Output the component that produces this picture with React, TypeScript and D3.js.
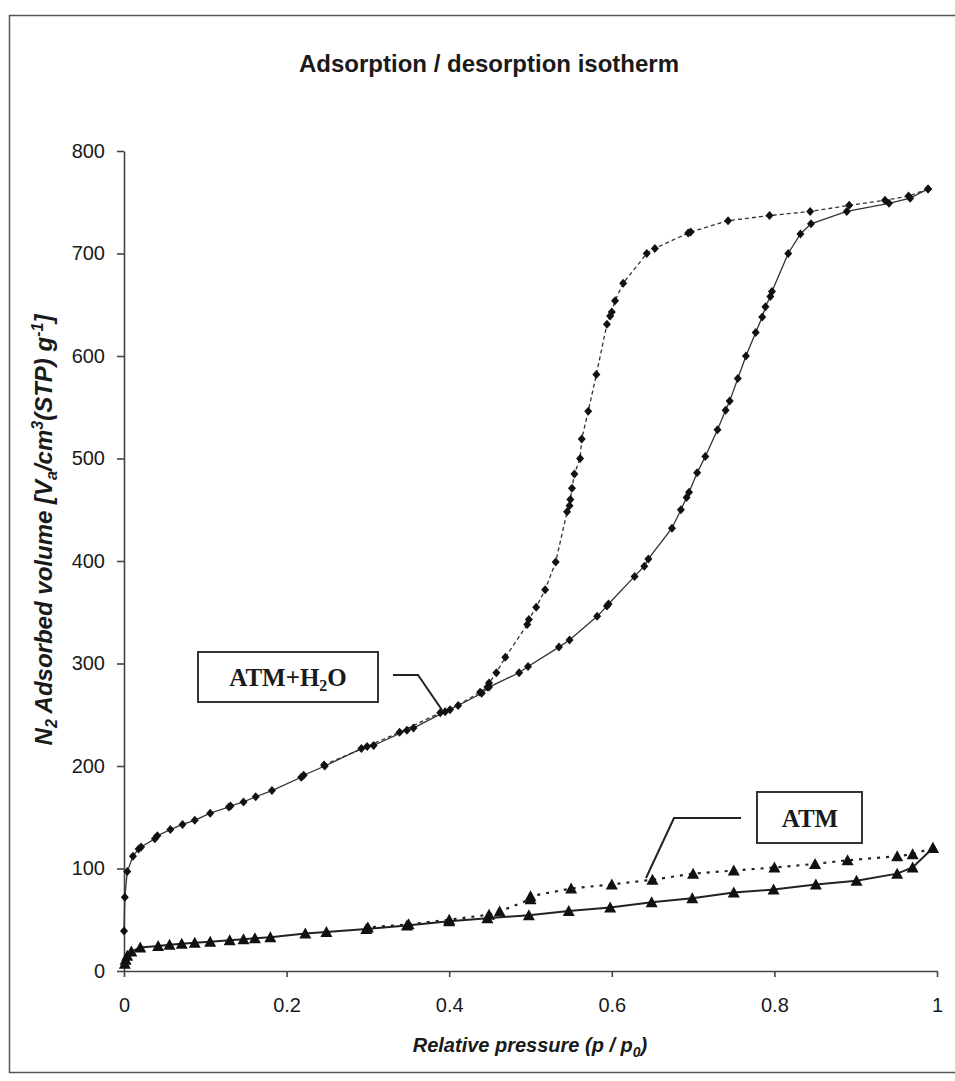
import { useEffect, useRef } from "react";
import * as d3 from "d3";

const WIDTH = 955;
const HEIGHT = 1081;

// ATM+H2O, adsorption branch (solid line)
const h2oAdsP = [
  0.0, 0.001, 0.004, 0.011, 0.018, 0.021, 0.038, 0.041, 0.057, 0.072, 0.087,
  0.106, 0.129, 0.131, 0.147, 0.162, 0.182, 0.218, 0.221, 0.247, 0.292, 0.307,
  0.348, 0.356, 0.395, 0.411, 0.44, 0.449, 0.486, 0.497, 0.535, 0.548, 0.582,
  0.594, 0.596, 0.628, 0.64, 0.645, 0.674, 0.685, 0.692, 0.695, 0.705, 0.715,
  0.73, 0.74, 0.745, 0.755, 0.765, 0.777, 0.785, 0.789, 0.795, 0.797, 0.817,
  0.832, 0.845, 0.889, 0.941, 0.967, 0.989,
];
const h2oAdsV = [
  39, 72, 97, 112, 119, 121, 129, 132, 138, 143, 147, 154, 160, 161, 165, 170,
  176, 189, 191, 200, 217, 220, 235, 237, 253, 259, 271, 277, 291, 297, 316,
  323, 346, 356, 358, 385, 395, 402, 432, 450, 462, 467, 486, 502, 528, 547,
  556, 578, 600, 623, 638, 648, 658, 663, 700, 719, 729, 741, 749, 754, 763,
];

// ATM+H2O, desorption branch (dashed line)
const h2oDesP = [
  0.989, 0.965, 0.936, 0.892, 0.844, 0.794, 0.743, 0.697, 0.694, 0.653, 0.643,
  0.614, 0.604, 0.6, 0.598, 0.594, 0.581, 0.571, 0.563, 0.561, 0.554, 0.551,
  0.549, 0.548, 0.545, 0.531, 0.518, 0.507, 0.498, 0.496, 0.469, 0.458, 0.449,
  0.447, 0.438, 0.401, 0.389, 0.339, 0.299, 0.246,
];
const h2oDesV = [
  763, 756, 752, 747, 741, 737, 732, 721, 720, 705, 700, 671, 654, 643, 639,
  631, 582, 546, 519, 500, 485, 471, 460, 454, 448, 399, 372, 355, 343, 338,
  306, 291, 281, 277, 272, 255, 252, 233, 219, 201,
];

// ATM, adsorption branch (solid line)
const atmAdsP = [
  0.001, 0.002, 0.004, 0.009, 0.02, 0.042, 0.056, 0.071, 0.087, 0.106, 0.13,
  0.147, 0.161, 0.18, 0.223, 0.249, 0.298, 0.348, 0.4, 0.447, 0.498, 0.547,
  0.598, 0.649, 0.699, 0.75, 0.799, 0.851, 0.901, 0.951, 0.97, 0.995,
];
const atmAdsV = [
  7, 11, 15, 19, 23, 24.5, 25.5, 26.5, 27.5, 28.5, 30, 31, 32, 33, 36.5, 38,
  41, 44.5, 48.5, 51.5, 54.5, 58.5, 62, 67, 71, 76.5, 79.5, 84.5, 88, 95, 101,
  120,
];

// ATM, desorption branch (dotted line)
const atmDesP = [
  0.995, 0.97, 0.951, 0.89, 0.85, 0.8, 0.75, 0.7, 0.65, 0.6, 0.55, 0.5, 0.5,
  0.462, 0.449, 0.4, 0.35, 0.3,
];
const atmDesV = [
  120, 114, 112, 108, 104.5, 101, 98, 95, 89, 84.5, 80.5, 73, 70, 58, 55, 50,
  45.5, 42.5,
];

const yTicks = [0, 100, 200, 300, 400, 500, 600, 700, 800];
const xTicks = [0, 0.2, 0.4, 0.6, 0.8, 1];

const SANS = "'Liberation Sans', Arial, sans-serif";
const SERIF = "'Liberation Serif', 'Times New Roman', serif";

const App = () => {
  const svgRef = useRef<SVGSVGElement>(null);

  useEffect(() => {
    if (!svgRef.current) return;
    const svg = d3.select(svgRef.current);
    svg.selectAll("*").remove();

    const x = d3.scaleLinear().domain([0, 1]).range([124, 937]);
    const y = d3.scaleLinear().domain([0, 800]).range([971, 151]);

    // outer frame
    svg
      .append("rect")
      .attr("x", 9.5)
      .attr("y", 15.5)
      .attr("width", 960)
      .attr("height", 1057)
      .attr("fill", "#fff")
      .attr("stroke", "#555")
      .attr("stroke-width", 1.5);

    svg
      .append("text")
      .attr("x", 489)
      .attr("y", 72)
      .attr("text-anchor", "middle")
      .attr("font-family", SANS)
      .attr("font-weight", "bold")
      .attr("font-size", 24)
      .attr("fill", "#1a1a1a")
      .text("Adsorption / desorption isotherm");

    // axes
    const yAxis = svg
      .append("g")
      .attr("transform", `translate(${x(0)},0)`)
      .call(
        d3
          .axisLeft(y)
          .tickValues(yTicks)
          .tickSize(7)
          .tickSizeOuter(0)
          .tickPadding(12)
          .tickFormat((d) => String(d)),
      );
    const xAxis = svg
      .append("g")
      .attr("transform", `translate(0,${y(0)})`)
      .call(
        d3
          .axisBottom(x)
          .tickValues(xTicks)
          .tickSize(6)
          .tickSizeOuter(0)
          .tickPadding(21)
          .tickFormat((d) => String(+(+d).toFixed(1))),
      );
    [yAxis, xAxis].forEach((g) => {
      g.selectAll("path, line")
        .attr("stroke", "#444")
        .attr("stroke-width", 1.6);
      g.selectAll("text")
        .attr("font-family", SANS)
        .attr("font-size", 20)
        .attr("fill", "#1a1a1a");
    });

    // axis titles
    const xt = svg
      .append("text")
      .attr("x", 530)
      .attr("y", 1052)
      .attr("text-anchor", "middle")
      .attr("font-family", SANS)
      .attr("font-weight", "bold")
      .attr("font-style", "italic")
      .attr("font-size", 20)
      .attr("fill", "#1a1a1a");
    xt.append("tspan").text("Relative pressure (p / p");
    xt.append("tspan").attr("dy", 5).attr("font-size", 14).text("0");
    xt.append("tspan").attr("dy", -5).text(")");

    const yt = svg
      .append("text")
      .attr("transform", "translate(52,530) rotate(-90)")
      .attr("text-anchor", "middle")
      .attr("font-family", SANS)
      .attr("font-weight", "bold")
      .attr("font-style", "italic")
      .attr("font-size", 24)
      .attr("fill", "#1a1a1a");
    yt.append("tspan").text("N");
    yt.append("tspan").attr("dy", 5).attr("font-size", 16).text("2");
    yt.append("tspan").attr("dy", -5).text(" Adsorbed volume  [V");
    yt.append("tspan").attr("dy", 5).attr("font-size", 16).text("a");
    yt.append("tspan").attr("dy", -5).text("/cm");
    yt.append("tspan").attr("dy", -9).attr("font-size", 16).text("3");
    yt.append("tspan").attr("dy", 9).text("(STP) g");
    yt.append("tspan").attr("dy", -9).attr("font-size", 16).text("-1");
    yt.append("tspan").attr("dy", 9).text("]");

    const toPts = (ps: number[], vs: number[]) =>
      ps.map((p, i) => [p, vs[i]] as [number, number]);

    const line = d3
      .line<[number, number]>()
      .x((d) => x(d[0]))
      .y((d) => y(d[1]));

    const h2oAds = toPts(h2oAdsP, h2oAdsV);
    const h2oDes = toPts(h2oDesP, h2oDesV);
    const atmAds = toPts(atmAdsP, atmAdsV);
    const atmDes = toPts(atmDesP, atmDesV);

    svg
      .append("path")
      .datum(h2oAds)
      .attr("d", line)
      .attr("fill", "none")
      .attr("stroke", "#333")
      .attr("stroke-width", 1.3);
    svg
      .append("path")
      .datum(h2oDes)
      .attr("d", line)
      .attr("fill", "none")
      .attr("stroke", "#333")
      .attr("stroke-width", 1.3)
      .attr("stroke-dasharray", "4,3");
    svg
      .append("path")
      .datum(atmAds)
      .attr("d", line)
      .attr("fill", "none")
      .attr("stroke", "#222")
      .attr("stroke-width", 2);
    svg
      .append("path")
      .datum(atmDes)
      .attr("d", line)
      .attr("fill", "none")
      .attr("stroke", "#222")
      .attr("stroke-width", 2.2)
      .attr("stroke-dasharray", "3,6");

    const diamond = "M0,-4.5L4,0L0,4.5L-4,0Z";
    const triangle = "M0,-6L6,5L-6,5Z";

    svg
      .append("g")
      .selectAll("path")
      .data([...h2oAds, ...h2oDes])
      .join("path")
      .attr("d", diamond)
      .attr("transform", (d) => `translate(${x(d[0])},${y(d[1])})`)
      .attr("fill", "#111");
    svg
      .append("g")
      .selectAll("path")
      .data([...atmAds, ...atmDes])
      .join("path")
      .attr("d", triangle)
      .attr("transform", (d) => `translate(${x(d[0])},${y(d[1])})`)
      .attr("fill", "#111");

    // callout labels
    const callout = (
      box: [number, number, number, number],
      leader: [number, number][],
    ) => {
      svg
        .append("path")
        .attr("d", d3.line()(leader))
        .attr("fill", "none")
        .attr("stroke", "#222")
        .attr("stroke-width", 2);
      svg
        .append("rect")
        .attr("x", box[0])
        .attr("y", box[1])
        .attr("width", box[2])
        .attr("height", box[3])
        .attr("fill", "#fff")
        .attr("stroke", "#333")
        .attr("stroke-width", 2);
    };

    callout([198, 652, 180, 50], [
      [393, 675],
      [418, 675],
      [442, 710],
    ]);
    const t1 = svg
      .append("text")
      .attr("x", 288)
      .attr("y", 686)
      .attr("text-anchor", "middle")
      .attr("font-family", SERIF)
      .attr("font-weight", "bold")
      .attr("font-size", 25)
      .attr("fill", "#1a1a1a");
    t1.append("tspan").text("ATM+H");
    t1.append("tspan").attr("dy", 5).attr("font-size", 16).text("2");
    t1.append("tspan").attr("dy", -5).text("O");

    callout([757, 792, 105, 51], [
      [741, 818],
      [674, 818],
      [646, 878],
    ]);
    svg
      .append("text")
      .attr("x", 810)
      .attr("y", 827)
      .attr("text-anchor", "middle")
      .attr("font-family", SERIF)
      .attr("font-weight", "bold")
      .attr("font-size", 25)
      .attr("fill", "#1a1a1a")
      .text("ATM");
  }, []);

  return (
    <svg
      ref={svgRef}
      width={WIDTH}
      height={HEIGHT}
      style={{ position: "absolute", left: 0, top: 0, background: "#fff" }}
    />
  );
};

export default App;
